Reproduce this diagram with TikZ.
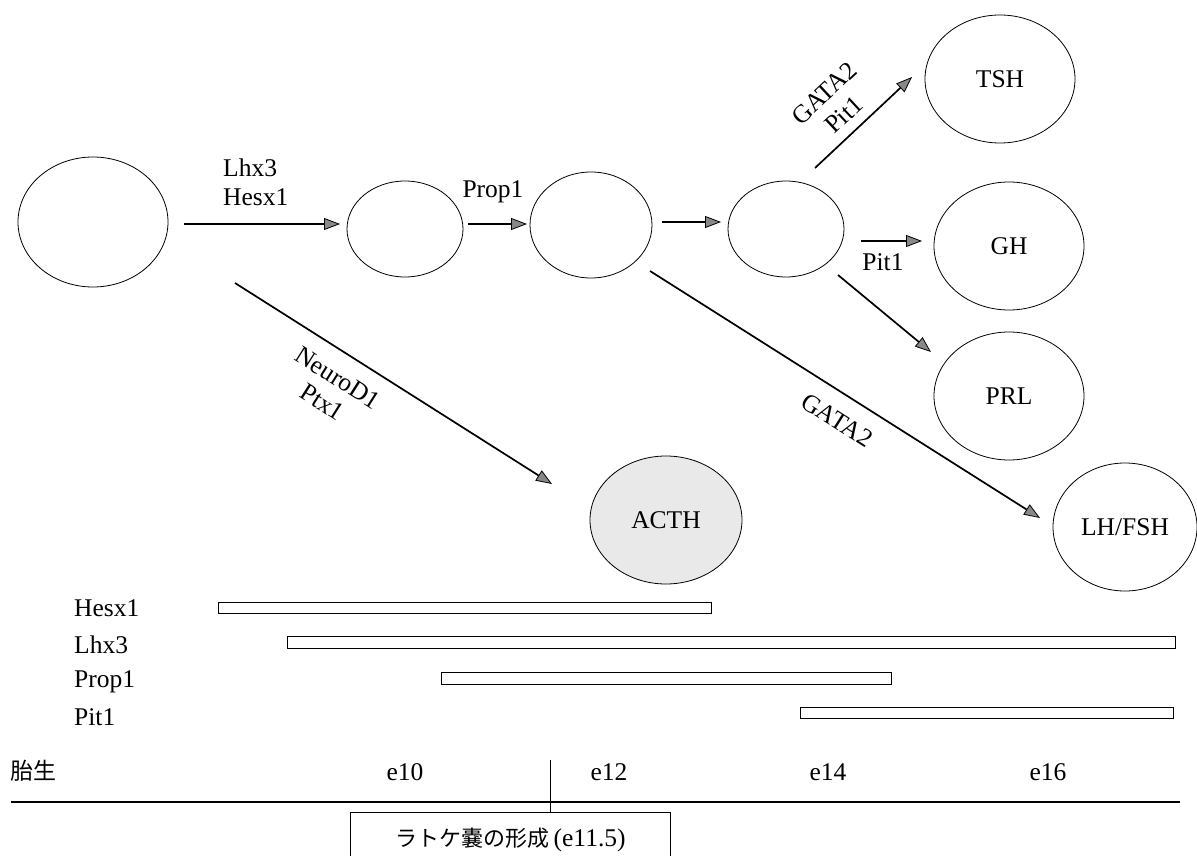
\documentclass[tikz,border=0pt]{standalone}
\usepackage{fontspec}
\setmainfont{Liberation Serif}
\newfontfamily\jp{Noto Sans CJK JP}
\usetikzlibrary{shapes.geometric,arrows.meta}
\begin{document}
\begin{tikzpicture}[x=1pt,y=-1pt,
  font=\fontsize{25.5}{29}\selectfont,
  cell/.style={ellipse,draw,line width=0.8pt,inner sep=0pt},
  big/.style={cell,minimum width=150pt,minimum height=128pt},
  small/.style={cell,minimum width=116pt,minimum height=96pt},
  arr/.style={line width=1.7pt,-{Triangle[length=16pt,width=12pt,fill=gray!45!black!60,line width=0.8pt]}},
  lbl/.style={inner sep=0pt,align=center},
  bar/.style={draw,line width=0.9pt,fill=white},
  rule/.style={line width=1.1pt}]
\useasboundingbox (0,0) rectangle (1197,856);

% cells
\node[big,minimum height=130pt] (A) at (93,222) {};
\node[small] (B) at (405,229) {};
\node[cell,minimum width=122pt,minimum height=106pt] (C) at (591,225) {};
\node[small] (D) at (786,229) {};
\node[big] (TSH) at (1000,79) {TSH};
\node[big] (GH) at (1009,246) {GH};
\node[big] (PRL) at (1009,396) {PRL};
\node[big,minimum width=144pt] (LHFSH) at (1125,527) {LH/FSH};
\node[big,minimum width=152pt,fill=gray!17] (ACTH) at (666,520) {ACTH};

% arrows
\draw[arr] ([shift={(91,2)}]A.center) -- ([shift={(-65,-5)}]B.center);
\draw[arr] ([shift={(63,-5)}]B.center) -- ([shift={(-64,-1)}]C.center);
\draw[arr] ([shift={(71,-3)}]C.center) -- ([shift={(-65,-7)}]D.center);
\draw[arr] ([shift={(29,-61)}]D.center) -- ([shift={(-88,-2)}]TSH.center);
\draw[arr] ([shift={(75,12)}]D.center) -- ([shift={(-87,-5)}]GH.center);
\draw[arr] ([shift={(52,46)}]D.center) -- ([shift={(-78,-44)}]PRL.center);
\draw[arr] ([shift={(59,46)}]C.center) -- ([shift={(-85,-9)}]LHFSH.center);
\draw[arr] ([shift={(142,61)}]A.center) -- ([shift={(-114,-36)}]ACTH.center);

% arrow labels
\node[lbl,align=left,anchor=west] (lhxlbl) at (223,182) {Lhx3\\Hesx1};
\node[lbl] (proplbl) at (493,192) {Prop1};
\node[lbl,rotate=43] (gplbl) at (834,104) {GATA2\\Pit1};
\node[lbl] (pitlbl) at (883,262) {Pit1};
\node[lbl,rotate=-32.4] (nplbl) at (330,390) {NeuroD1\\Ptx1};
\node[lbl,rotate=-32.3] (g2lbl) at (837,420) {GATA2};

% expression bars
\node[lbl,anchor=west] (lHesx) at (74,608) {Hesx1};
\node[lbl,anchor=west] (lLhx) at (74,645) {Lhx3};
\node[lbl,anchor=west] (lProp) at (74,682) {Prop1};
\node[lbl,anchor=west] (lPit) at (74,717) {Pit1};
\draw[bar] (218,602) rectangle (711,613);
\draw[bar] (287,636) rectangle (1175,648);
\draw[bar] (441,672) rectangle (891,684);
\draw[bar] (800,707) rectangle (1173,718);

% time axis
\node[lbl,anchor=west] (tai) at (10,771) {\jp\fontsize{23}{26}\selectfont 胎生};
\node[lbl] (e10) at (405,772) {e10};
\node[lbl] (e12) at (609,772) {e12};
\node[lbl] (e14) at (828,772) {e14};
\node[lbl] (e16) at (1048,772) {e16};
\coordinate (axL) at (11,802);
\coordinate (axR) at (1180,802);
\draw[rule] (axL) -- (axR);

\node[inner sep=0pt,minimum width=319pt,minimum height=54pt] (rathke) at (510.5,840)
  {{\jp\fontsize{22}{26}\selectfont ラトケ嚢の形成}\,(e11.5)};
\draw[line width=0.9pt] (rathke.south west) -- (rathke.north west) -- (rathke.north east) -- (rathke.south east);
\coordinate (e115) at (550,760);
\draw[line width=0.9pt] (e115) -- (e115 |- rathke.north);
\end{tikzpicture}
\end{document}
